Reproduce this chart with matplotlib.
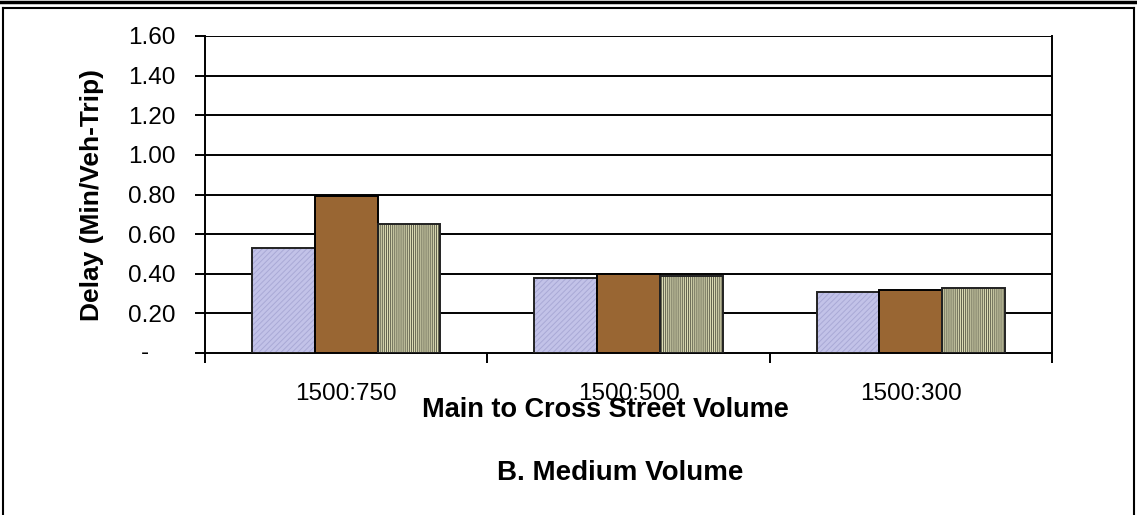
import matplotlib.pyplot as plt
import matplotlib.transforms as mtransforms
import numpy as np
from matplotlib.lines import Line2D

plt.rcParams['font.family'] = ['Liberation Sans', 'DejaVu Sans']
plt.rcParams['hatch.linewidth'] = 0.7

categories = ['1500:750', '1500:500', '1500:300']
series_a = [0.53, 0.38, 0.31]
series_b = [0.79, 0.40, 0.32]
series_c = [0.65, 0.39, 0.33]
yticks = [0, 0.2, 0.4, 0.6, 0.8, 1.0, 1.2, 1.4, 1.6]
ytick_labels = ['', '0.20', '0.40', '0.60', '0.80', '1.00', '1.20', '1.40', '1.60']

H, W = 515, 1137
fig = plt.figure(figsize=(11.37, 5.15), dpi=100)
ax = fig.add_axes([205 / W, 1 - 353 / H, 847 / W, 317 / H])

x = np.arange(len(categories))
w = 0.222

for v in yticks[1:]:
    ax.axhline(v, color='black', lw=1.4, zorder=1)

# lavender bars with fine diagonal texture
ax.bar(x - w, series_a, w, color='#c2c2e8', edgecolor='#a9a9d6', hatch='//////', lw=0, zorder=2)
ax.bar(x - w, series_a, w, facecolor='none', edgecolor='#222222', lw=1.4, zorder=3)
# solid brown
ax.bar(x, series_b, w, color='#996633', edgecolor='black', lw=1.4, zorder=3)
# vertical stripes
ax.bar(x + w, series_c, w, color='#dcdcb4', edgecolor='#5f5f4c', hatch='||||||||', lw=0, zorder=2)
ax.bar(x + w, series_c, w, facecolor='none', edgecolor='#222222', lw=1.4, zorder=3)

ax.set_xlim(-0.5, 2.5)
ax.set_ylim(0, 1.6)
ax.set_yticks(yticks)
ax.set_yticklabels(ytick_labels, fontsize=17.5)
ax.set_xticks([-0.5, 0.5, 1.5, 2.5])
ax.set_xticklabels([])
ax.set_xticks(x, minor=True)
ax.set_xticklabels(categories, minor=True, fontsize=17.5)
ax.tick_params(axis='x', which='minor', length=0, pad=21.5)
ax.tick_params(axis='x', which='major', length=7, width=1.4, direction='out')
ax.tick_params(axis='y', length=7, width=1.4, direction='out', pad=14)

# zero is shown as a dash, set in from the other labels
dash_tr = ax.get_yaxis_transform() + mtransforms.ScaledTranslation(-60 / 100, 0, fig.dpi_scale_trans)
ax.text(0, 0, '-', transform=dash_tr, ha='center', va='center', fontsize=17.5)

ax.spines['top'].set_visible(False)
for s in ['left', 'bottom', 'right']:
    ax.spines[s].set_linewidth(1.4)

fig.text(92 / W, 1 - 195 / H, 'Delay (Min/Veh-Trip)', rotation=90, ha='center', va='center',
         fontsize=19, fontweight='bold')
fig.text(605 / W, 1 - 410 / H, 'Main to Cross Street Volume', ha='center', va='center',
         fontsize=19.5, fontweight='bold')
fig.text(620 / W, 1 - 473 / H, 'B. Medium Volume', ha='center', va='center',
         fontsize=20, fontweight='bold')

# frame around the chart and the bottom edge of the box above it
fig.add_artist(Line2D([0, 1], [1 - 1.5 / H, 1 - 1.5 / H], color='black', lw=2.5, transform=fig.transFigure))
fig.add_artist(Line2D([3 / W, 1134 / W], [1 - 8 / H, 1 - 8 / H], color='black', lw=1.5, transform=fig.transFigure))
fig.add_artist(Line2D([3 / W, 3 / W], [0, 1 - 8 / H], color='black', lw=1.5, transform=fig.transFigure))
fig.add_artist(Line2D([1134 / W, 1134 / W], [0, 1 - 8 / H], color='black', lw=1.5, transform=fig.transFigure))

fig.savefig('out.png', dpi=100)
